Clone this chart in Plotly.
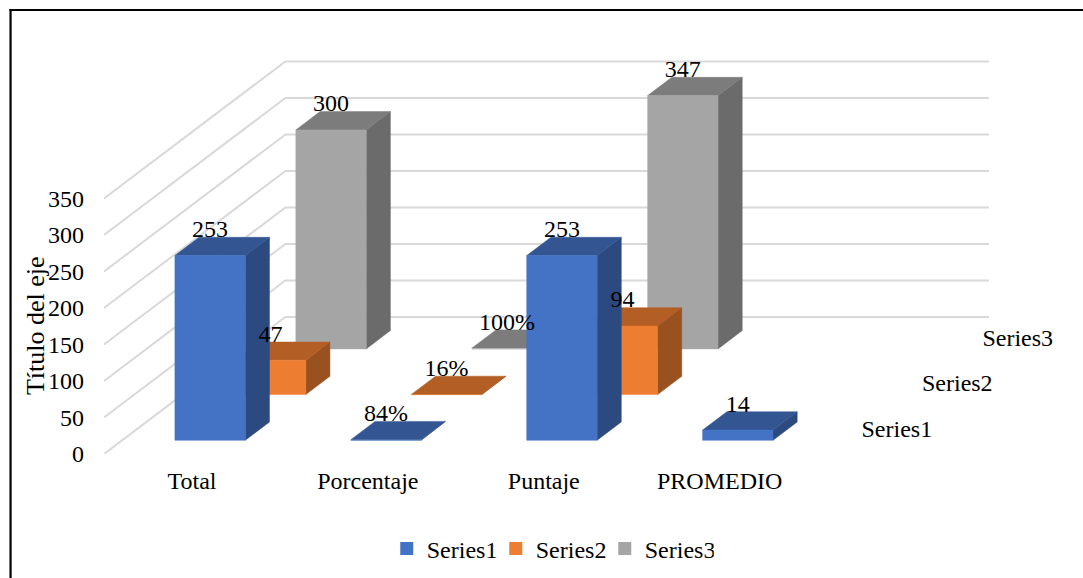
import plotly.graph_objects as go

categories = ["Total", "Porcentaje", "Puntaje", "PROMEDIO"]
series_names = ["Series1", "Series2", "Series3"]
series1 = [253, 0.84, 253, 14]
series2 = [47, 0.16, 94, None]
series3 = [300, 1, 347, None]
labels1 = ["253", "84%", "253", "14"]
labels2 = ["47", "16%", "94", ""]
labels3 = ["300", "100%", "347", ""]
y_ticks = [0, 50, 100, 150, 200, 250, 300, 350]

FRONT = ["#4472C4", "#ED7D31", "#A5A5A5"]
SIDE = ["#2C4A7F", "#9A5120", "#6B6B6B"]
TOP = ["#335693", "#B25E25", "#7C7C7C"]
FONT = "Liberation Serif"
W, H = 1083, 578
L, B = 103.5, 124
PX_X = 176.0          # pixels per category
PX_V = 0.73           # pixels per value unit
DX = 60.5 / PX_X      # depth step, category units
DY = 45.7 / PX_V      # depth step, value units


def proj(c, d, v):
    return c + d * DX, v + d * DY


def poly(points):
    xs, ys = zip(*[proj(*p) for p in points])
    return list(xs) + [xs[0], None], list(ys) + [ys[0], None]


fig = go.Figure()

# walls: gridlines run along the side wall, then along the back wall
gx, gy = [], []
for v in y_ticks:
    for c, d in [(0, 0), (0, 3), (len(categories), 3)]:
        x, y = proj(c, d, v)
        gx.append(x)
        gy.append(y)
    gx.append(None)
    gy.append(None)
fig.add_trace(go.Scatter(x=gx, y=gy, mode="lines", line=dict(color="#D9D9D9", width=2),
                         hoverinfo="skip", showlegend=False))

all_series = [series1, series2, series3]
all_labels = [labels1, labels2, labels3]

for i in [2, 1, 0]:
    side_x, side_y, top_x, top_y, front_x, front_y = [], [], [], [], [], []
    for c, v in enumerate(all_series[i]):
        if v is None:
            continue
        a, b, f, k = c + 0.3, c + 0.7, i + 0.3, i + 0.7
        px, py = poly([(b, f, 0), (b, k, 0), (b, k, v), (b, f, v)])
        side_x += px; side_y += py
        px, py = poly([(a, f, v), (b, f, v), (b, k, v), (a, k, v)])
        top_x += px; top_y += py
        px, py = poly([(a, f, 0), (b, f, 0), (b, f, v), (a, f, v)])
        front_x += px; front_y += py
    for xs, ys, col in [(side_x, side_y, SIDE[i]), (top_x, top_y, TOP[i]), (front_x, front_y, FRONT[i])]:
        fig.add_trace(go.Scatter(x=xs, y=ys, mode="lines", fill="toself", fillcolor=col,
                                 line=dict(color=col, width=0.5), hoverinfo="skip", showlegend=False))

# data labels
LABEL_GAP = 24.5 / PX_V
for i in [2, 1, 0]:
    xs, ys, ts = [], [], []
    for c, v in enumerate(all_series[i]):
        if v is None:
            continue
        x, y = proj(c + 0.5, i + 0.3, v)
        xs.append(x); ys.append(y + LABEL_GAP); ts.append(all_labels[i][c])
    fig.add_trace(go.Scatter(x=xs, y=ys, text=ts, mode="text", textposition="middle center",
                             textfont=dict(family=FONT, size=24, color="#000000"),
                             hoverinfo="skip", showlegend=False))

# depth axis labels
xs, ys = [], []
for i in range(3):
    x, y = proj(len(categories) + 59 / PX_X, i + 0.5, 0)
    xs.append(x); ys.append(y)
fig.add_trace(go.Scatter(x=xs, y=ys, text=series_names, mode="text", textposition="middle center",
                         textfont=dict(family=FONT, size=24, color="#000000"),
                         hoverinfo="skip", showlegend=False))

# legend entries
for i, name in enumerate(series_names):
    fig.add_trace(go.Scatter(x=[None], y=[None], mode="markers", name=name,
                             marker=dict(symbol="square", size=13, color=FRONT[i])))

plot_w = W - L
plot_h = H - B
fig.update_layout(
    width=W, height=H,
    margin=dict(l=L, r=0, t=0, b=B, pad=0),
    paper_bgcolor="#FFFFFF", plot_bgcolor="#FFFFFF",
    font=dict(family=FONT, size=24, color="#000000"),
    xaxis=dict(range=[0, plot_w / PX_X], showgrid=False, zeroline=False, showline=False,
               tickvals=[c + 0.5 for c in range(len(categories))], ticktext=categories,
               ticks="", ticklabelstandoff=10, tickfont=dict(family=FONT, size=24)),
    yaxis=dict(range=[0, plot_h / PX_V], showgrid=False, zeroline=False, showline=False,
               tickvals=y_ticks, ticks="", ticklabelstandoff=19, tickfont=dict(family=FONT, size=24)),
    legend=dict(orientation="h", x=(550 - L) / plot_w, xanchor="center", y=(plot_h - 549) / plot_h,
                yanchor="middle", font=dict(family=FONT, size=24), itemwidth=30,
                entrywidth=64, entrywidthmode="pixels",
                bgcolor="rgba(0,0,0,0)", traceorder="normal"),
    annotations=[dict(text="Título del eje", xref="paper", yref="paper",
                      x=(35 - L) / plot_w, y=(plot_h - 325.5) / plot_h, textangle=-90,
                      showarrow=False, xanchor="center", yanchor="middle",
                      font=dict(family=FONT, size=26, color="#000000"))],
    shapes=[
        dict(type="line", xref="paper", yref="paper", x0=(10 - L) / plot_w, x1=(10 - L) / plot_w,
             y0=(plot_h - 9) / plot_h, y1=(plot_h - H) / plot_h, line=dict(color="#000000", width=2.2)),
        dict(type="line", xref="paper", yref="paper", x0=(9 - L) / plot_w, x1=1,
             y0=(plot_h - 10) / plot_h, y1=(plot_h - 10) / plot_h, line=dict(color="#000000", width=2.2)),
    ],
)

fig.write_html("out.html", config={"displayModeBar": False},
               post_script="document.body.style.margin='0';")
